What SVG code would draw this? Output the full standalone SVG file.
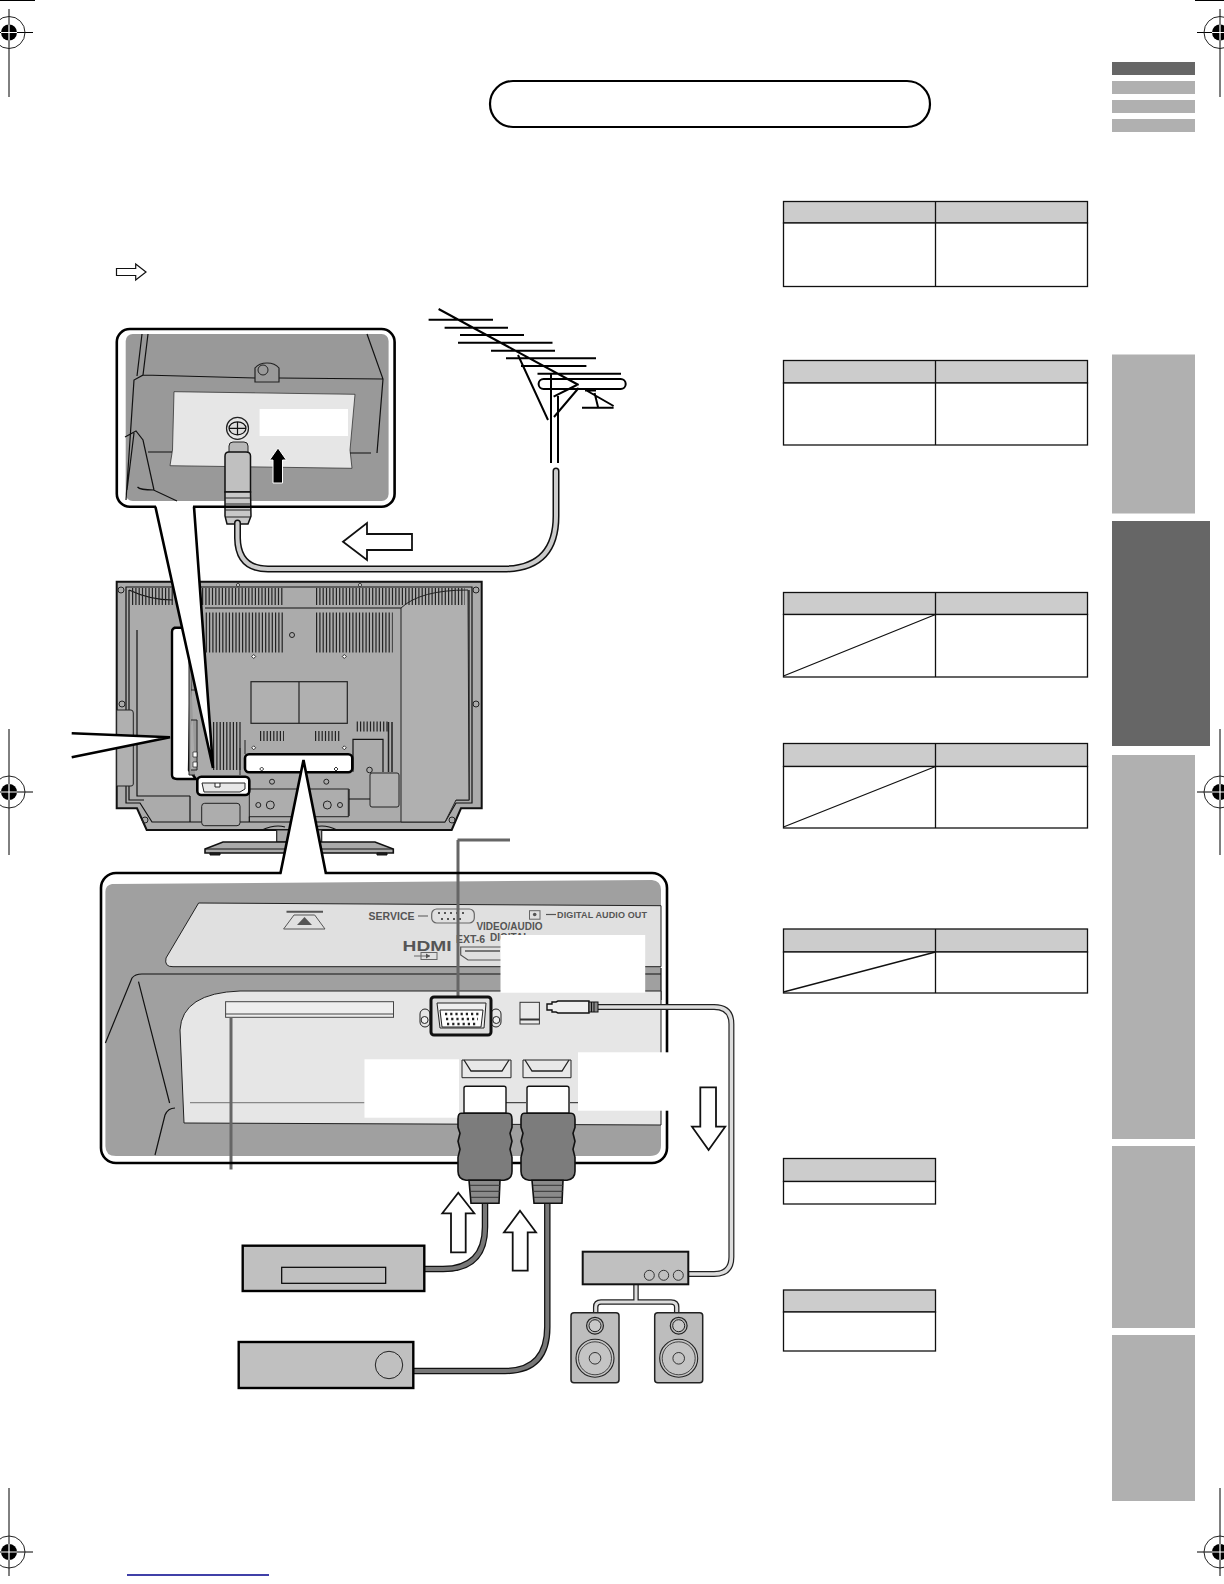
<svg xmlns="http://www.w3.org/2000/svg" width="1224" height="1584" viewBox="0 0 1224 1584">
<style>
.l{fill:none;stroke:#111;stroke-width:1.2}
.m{fill:none;stroke:#111;stroke-width:1.300}
.b{fill:none;stroke:#000;stroke-width:2.6}
.hd{fill:#ccc;stroke:#111;stroke-width:1.300}
.ce{fill:#fff;stroke:#111;stroke-width:1.300}
.v{fill:none;stroke:#222;stroke-dasharray:1.2 2.1}
.ar{fill:#fff;stroke:#111;stroke-width:1.8;stroke-linejoin:miter}
.dev{fill:#c0c0c0;stroke:#000;stroke-width:2.4}
.sp{fill:#bdbdbd;stroke:#222;stroke-width:1.5}
.t{font-family:"Liberation Sans",Arial,sans-serif;font-weight:bold;fill:#555}
.tab{fill:#b0b0b0}
</style>
<defs>
<g id="reg">
<circle r="16" fill="none" stroke="#222" stroke-width="1"/>
<circle r="8" fill="#000"/>
<path d="M-8 0H8M0-8V8" stroke="#fff" stroke-width="1.2"/>
</g>
<g id="plugH">
<path d="M6 -25 Q6 -27 8 -27 H46 Q48 -27 48 -25 V0 H6Z" fill="#fff" stroke="#111" stroke-width="1.4"/>
<path d="M3 0 H50 Q54 0 54 6 L54 14 L52 20 L54 28 L52 36 L54 44 L54 58 Q54 66 46 67 H8 Q0 66 0 58 L0 44 L2 36 L0 28 L2 20 L0 14 L0 6 Q0 0 3 0Z" fill="#7c7c7c" stroke="#111" stroke-width="1.6"/>
<path d="M11 67 H42 L41 90 H13Z" fill="#8a8a8a" stroke="#111" stroke-width="1.6"/>
<path d="M12 72H42M12 78H42M13 84H41" stroke="#333" stroke-width="1"/>
</g>
<g id="speaker">
<rect x="-24" y="0" width="48" height="70" rx="3" class="sp"/>
<circle cy="13" r="8.4" fill="#bbb" stroke="#222" stroke-width="1.2"/>
<circle cy="13" r="6" fill="#c8c8c8" stroke="#222" stroke-width="1"/>
<circle cy="45.600" r="19" fill="#c4c4c4" stroke="#222" stroke-width="1.1"/>
<circle cy="45.600" r="16.500" fill="none" stroke="#222" stroke-width=".8"/>
<circle cy="45.600" r="5.800" fill="none" stroke="#222" stroke-width=".9"/>
</g>
</defs>
<rect width="1224" height="1584" fill="#fff"/>

<g id="print-marks">
<path d="M0 .5H35M1195 .5H1224" stroke="#000" stroke-width="1.2"/>
<path d="M9 9V97M0 32.500H33M1220 9V97M1197 32.500H1224M9 729V855M0 792H33M1220 729V855M1197 792H1224M9 1488V1576M0 1552H33M1220 1488V1576M1197 1552H1224" stroke="#000" stroke-width="1"/>
<use href="#reg" x="9" y="32.500"/><use href="#reg" x="1220" y="32.500"/>
<use href="#reg" x="9" y="792"/><use href="#reg" x="1220" y="792"/>
<use href="#reg" x="9" y="1552"/><use href="#reg" x="1220" y="1552"/>
<path d="M127 1575H269" stroke="#00008b" stroke-width="1.600"/>
</g>

<g id="side-tabs">
<rect x="1112" y="62" width="83" height="13" fill="#666"/>
<rect x="1112" y="81" width="83" height="13" class="tab"/>
<rect x="1112" y="100" width="83" height="13" class="tab"/>
<rect x="1112" y="119" width="83" height="13" class="tab"/>
<rect x="1112" y="354.500" width="83" height="159" class="tab"/>
<rect x="1112" y="521" width="98" height="225" fill="#666"/>
<rect x="1112" y="755" width="83" height="384" class="tab"/>
<rect x="1112" y="1146" width="83" height="182" class="tab"/>
<rect x="1112" y="1335" width="83" height="166" class="tab"/>
</g>

<g id="title-pill"><rect x="490" y="81" width="440" height="46" rx="23" fill="#fff" stroke="#000" stroke-width="2.2"/></g>

<g id="legend-arrow"><path d="M116.500 268.500H135.700V264L146 272 135.700 280V275.500H116.500Z" fill="#fff" stroke="#111" stroke-width="1.200"/></g>

<g id="tables">
<g id="table-1"><rect x="783.500" y="201.500" width="304" height="21.500" class="hd"/><rect x="783.500" y="223" width="304" height="63.500" class="ce"/><path d="M935.500 201.500V286.500" class="m"/></g>
<g id="table-2"><rect x="783.500" y="360.500" width="304" height="22.500" class="hd"/><rect x="783.500" y="383" width="304" height="62" class="ce"/><path d="M935.500 360.500V445" class="m"/></g>
<g id="table-3"><rect x="783.500" y="592.500" width="304" height="22" class="hd"/><rect x="783.500" y="614.500" width="304" height="62.500" class="ce"/><path d="M935.500 592.500V677M783.500 676L935.500 614.500" class="m"/></g>
<g id="table-4"><rect x="783.500" y="743.500" width="304" height="23" class="hd"/><rect x="783.500" y="766.500" width="304" height="61.500" class="ce"/><path d="M935.500 743.500V828M783.500 827L935.500 766.500" class="m"/></g>
<g id="table-5"><rect x="783.500" y="929" width="304" height="23" class="hd"/><rect x="783.500" y="952" width="304" height="41" class="ce"/><path d="M935.500 929V993M783.500 992L935.500 952" class="m"/></g>
<g id="table-6"><rect x="783.500" y="1158.500" width="152" height="23" class="hd"/><rect x="783.500" y="1181.500" width="152" height="22.500" class="ce"/></g>
<g id="table-7"><rect x="783.500" y="1290" width="152" height="22" class="hd"/><rect x="783.500" y="1312" width="152" height="39" class="ce"/></g>
</g>

<g id="tv">
<path d="M116.700 581.700H481.700V808.300H461L451.700 830H146.700L137 808.300H116.700Z" fill="#ababab" stroke="#111" stroke-width="2"/>
<path d="M126 587H472V803H456L445 822H152L140 803H126Z" class="l"/>
<path d="M129 590V800H144M469 590V800H455" class="l"/>
<path d="M468 590Q420 590 401 608V822H445L456 800H469Z" fill="#b0b0b0" stroke="#222" stroke-width="1"/>
<path d="M401 608H205M129 590Q150 600 173 600" class="l"/>
<path d="M132 596.500H173M202 596.500H284M316 596.500H465" class="v" stroke-width="17"/>
<path d="M205.700 632.500H284M316 632.500H392.700" class="v" stroke-width="40"/>
<path d="M260 736H284M315 736H339.300M356.700 726.500H388.300" class="v" stroke-width="10"/>
<path d="M213 746H242.700" class="v" stroke-width="48"/>
<path d="M388.500 722V772M392 722V772" stroke="#222" stroke-width="1.500"/>
<path d="M240 748V775M245 740V754" stroke="#222" stroke-width="1"/>
<rect x="251" y="681.700" width="96.300" height="41.600" fill="#b0b0b0" stroke="#222" stroke-width="1.200"/>
<path d="M299 681.700V723.300" stroke="#222" stroke-width="1.200"/>
<path d="M353 771.700V739.300H383V772" class="l"/>
<rect x="370" y="773" width="29" height="34" rx="2" fill="#b0b0b0" stroke="#222" stroke-width="1"/>
<path d="M137 630V796H190M349 789V816M349 799H370" class="l"/>
<path d="M116.700 710H131Q133.300 710 133.300 713V784Q133.300 786 131 786H116.700Z" fill="#b0b0b0" stroke="#222" stroke-width="1"/>
<rect x="201.700" y="803.300" width="38.300" height="22.400" rx="3" fill="#adadad" stroke="#222" stroke-width="1"/>
<rect x="249.300" y="789" width="99" height="27.700" fill="#adadad" stroke="#222" stroke-width="1"/>
<path d="M249.300 816.700V822M190 822V796" class="l"/>
<g fill="none" stroke="#222" stroke-width="1"><circle cx="292" cy="635" r="2.500"/><circle cx="272" cy="781.700" r="2.500"/><circle cx="326.300" cy="781.700" r="2.500"/><circle cx="258.300" cy="805" r="2.500"/><circle cx="270.300" cy="805" r="4"/><circle cx="327.300" cy="805" r="4"/><circle cx="340" cy="805" r="2.500"/><circle cx="369.500" cy="770" r="2.800"/></g>
<g fill="#fff" stroke="#222" stroke-width=".9"><path d="M253.700 654.500l2 2-2 2-2-2zM344.300 654.500l2 2-2 2-2-2zM253.700 745.800l2 2-2 2-2-2zM344.300 745.800l2 2-2 2-2-2z"/><circle cx="238" cy="585" r="1.500"/><circle cx="360" cy="585" r="1.500"/></g>
<g fill="none" stroke="#222" stroke-width="1"><circle cx="121" cy="590" r="3"/><circle cx="476" cy="590" r="3"/><circle cx="122" cy="704" r="3"/><circle cx="476" cy="704" r="3"/><circle cx="145" cy="820" r="3"/><circle cx="452" cy="820" r="3"/></g>
<path d="M276.700 830H321.700V842H276.700Z" fill="#a8a8a8" stroke="#222" stroke-width="1.200"/>
<path d="M262 830Q275 824 285 827M315 827Q325 824 337 830" class="l"/>
<path d="M205 849L223 842H375L393.300 849V853H205Z" fill="#aaa" stroke="#111" stroke-width="1.600"/>
<path d="M205 849H393.300M210 853h10v2h-10zM377 853h10v2h-10z" fill="#222" stroke="#111" stroke-width="1"/>
<path d="M174 627.700H186L191 660 189 770 196 779H177Q172 779 172 775V632Q172 627.700 176 627.700Z" fill="#fff" stroke="#000" stroke-width="2.400"/>
<path d="M189 620V775H195M191 670H197V690H191M191 720H197V770H191" fill="#9a9a9a" stroke="#222" stroke-width="1"/>
<path d="M193 752h4v5h-4zM193 762h4v5h-4z" fill="#fff" stroke="#222" stroke-width=".7"/>
<rect x="197.300" y="776.700" width="52" height="18.300" rx="4" fill="#fff" stroke="#000" stroke-width="2.600"/>
<path d="M202 783H245V789L240 792H204ZM215 783v4h5v-4" fill="#e8e8e8" stroke="#222" stroke-width="1"/>
<rect x="245" y="754.300" width="107.300" height="18" rx="4" fill="#fff" stroke="#000" stroke-width="2.600"/>
<path d="M261.700 767l2 2-2 2-2-2zM336 767l2 2-2 2-2-2z" fill="#fff" stroke="#222" stroke-width=".9"/>
</g>

<g id="wedge-fills">
<path d="M155.400 506.700L213 768 194 506.700Z" fill="#fff"/>
<path d="M71.700 733.300L170 737.300 71.700 757.300Z" fill="#fff"/>
<path d="M280.300 878L303.500 760 326 878Z" fill="#fff"/>
</g>

<g id="aerial-inset">
<rect x="116.800" y="329" width="277.800" height="177.700" rx="13" fill="#fff"/>
<rect x="125.700" y="334" width="262.900" height="167" rx="7" fill="#999"/>
<path d="M174 391.700L355 394.300 350 450 352 468.300 170 465.700 172.500 450Z" fill="#e6e6e6" stroke="#222" stroke-width=".7"/>
<path d="M148 334L143 375 134 380 126 500M142 334L137 376M143 375L255 378M279 378L383 379M367 334L383 379 377 453M148 452H172M350 453H371M125 437L136 431 143 440 154 490M134 433L127 490M137.500 487Q140 490 153.600 490L177 501" class="l"/>
<path d="M255 378V368Q259 363 267 363 275 363 279 368V378 382H255Z" fill="#9a9a9a" stroke="#222" stroke-width="1.200"/>
<circle cx="263" cy="370" r="5" fill="none" stroke="#222"/>
<rect x="259.600" y="409" width="88.400" height="27" fill="#fff"/>
<circle cx="237.500" cy="428.300" r="11" fill="#e5e5e5" stroke="#222" stroke-width="1.200"/>
<ellipse cx="237.500" cy="428.300" rx="8.500" ry="6.500" fill="#ddd" stroke="#111" stroke-width="1.200"/>
<path d="M229 428.300H246M237.500 422V435" stroke="#111" stroke-width="1.200"/>
<rect x="229" y="442" width="19" height="14" rx="4" fill="#b8b8b8" stroke="#222" stroke-width="1"/>
<path d="M225 456Q225 452 229 452H246Q250.500 452 250.500 456V492H225Z" fill="#c0c0c0" stroke="#111" stroke-width="1.500"/>
<path d="M225 492H250.500L251 516 248 524H227L225 516Z" fill="#c8c8c8" stroke="#111" stroke-width="1.500"/>
<path d="M225 498H250.500M225 504H250.500M225 510H250.500M226 517H250" stroke="#222" stroke-width="1"/>
<path d="M278 448L286.400 460H282.500V483H273V460H269.600Z" fill="#000" stroke="#fff" stroke-width="1"/>
<rect x="116.800" y="329" width="277.800" height="177.700" rx="13" fill="none" stroke="#000" stroke-width="2.600"/>
<path d="M156 506.700H193" stroke="#fff" stroke-width="4"/>
</g>

<g id="aerial-cable">
<path d="M237.500 523V538Q238 569 268 569H503Q556 569 556 516V471" fill="none" stroke="#111" stroke-width="7" stroke-linecap="round"/>
<path d="M237.500 523V538Q238 569 268 569H503Q556 569 556 516V471" fill="none" stroke="#ccc" stroke-width="4" stroke-linecap="round"/>
<path d="M343 541.700L367 523V534H412V550H367V560Z" class="ar"/>
</g>

<g id="antenna" fill="none" stroke="#000">
<path d="M438.600 309L578.600 385M428.600 319.700H493M444.600 327.700H508M460 335H524M458 342.700H552.500M491 350.700H555M506 358.300H596M521 366H586.400M537.500 373.700H621" stroke-width="2"/>
<rect x="538.600" y="379" width="87.100" height="10" rx="5" stroke-width="2"/>
<path d="M518 355L548 420M553.600 396.700L576.800 385M578.600 388L554 417M551 374V463M558 396V463M585.700 390L613.600 406M594.600 393L598 407M582 407.700H613.600M585 390.500H596" stroke-width="2"/>
</g>

<g id="connection-inset">
<rect x="101" y="873" width="566" height="290" rx="15" fill="#fff"/>
<path d="M112 884L652 880Q661 881 661 890V1145Q661 1156 650 1156H116Q105.400 1156 105.400 1146V892Q105.400 885 112 884Z" fill="#a0a0a0"/>
<path d="M198.600 903L661 905.700V966.700H173Q164 967 166 958Z" fill="#e0e0e0" stroke="#222" stroke-width="1"/>
<path d="M105.400 1043L132 978Q135 974 142 974H661M661 968V1000M138.500 981.700L169.600 1103M155 1155L165 1115Q168 1108 175 1108" class="l"/>
<path d="M661 991H240Q182 993 180 1030L184 1123 661 1125Z" fill="#e6e6e6" stroke="#222" stroke-width="1"/>
<path d="M190 1102.700H364.500" stroke="#888" stroke-width="1.200"/><path d="M505 1102.700H526M570 1102.700H660" stroke="#222" stroke-width="1"/>
<rect x="225.600" y="1001.700" width="167.900" height="15.600" fill="#eee" stroke="#444" stroke-width="1"/>
<path d="M225.600 1014H393.500" stroke="#444" stroke-width="1"/>
<path d="M286.500 911.700H323" stroke="#555" stroke-width="2"/>
<path d="M283.600 929L294 915H314.700L325 929Z" fill="none" stroke="#555" stroke-width="1"/>
<path d="M304.500 917L312 925H297Z" fill="#555"/>
<text x="368.600" y="920" class="t" font-size="10.500">SERVICE</text>
<path d="M418 916H428" stroke="#555"/>
<rect x="431.700" y="909" width="42.600" height="14" rx="5" fill="none" stroke="#666" stroke-width="1.200"/>
<path d="M438 913h28M441 919h22" stroke="#555" stroke-width="2" stroke-dasharray="2 4"/>
<rect x="529.500" y="910.700" width="10.500" height="8.500" fill="none" stroke="#666"/><circle cx="534.700" cy="914.500" r="1.800" fill="#555"/>
<path d="M546 914.500H556" stroke="#555" stroke-width="1.200"/>
<text x="557" y="918" class="t" font-size="9" textLength="90">DIGITAL AUDIO OUT</text>
<text x="476.400" y="930" class="t" font-size="10">VIDEO/AUDIO</text>
<text x="490" y="941" class="t" font-size="10">DIGITAL</text>
<text x="456" y="943" class="t" font-size="10.500">EXT-6</text>
<text x="402.600" y="951" class="t" font-size="14" textLength="49" lengthAdjust="spacingAndGlyphs">HDMI</text>
<rect x="421" y="952.500" width="16" height="7" fill="none" stroke="#666"/><path d="M414 956H430" stroke="#666"/><path d="M426 953.500l4 2.500-4 2.500z" fill="#555"/>
<path d="M460.700 947H510V960H468L460.700 955Z" fill="none" stroke="#555" stroke-width="1.200"/><path d="M465 951H500" stroke="#555" stroke-width="1.500"/>
<rect x="500.500" y="935" width="144.700" height="57.700" fill="#fff"/>
<path d="M457.500 840H510M458 840V997M231 1017V1169.500" fill="none" stroke="#666" stroke-width="3"/>
<rect x="520" y="1002.300" width="19.400" height="21.700" fill="#eaeaea" stroke="#333" stroke-width="1"/>
<path d="M520 1019.500H539.400" stroke="#333" stroke-width="2"/>
<g id="vga">
<rect x="420" y="1009" width="10" height="18" rx="5" fill="#e5e5e5" stroke="#222"/><circle cx="424.600" cy="1020" r="3.500" fill="#eee" stroke="#222"/>
<rect x="491" y="1009" width="10" height="18" rx="5" fill="#e5e5e5" stroke="#222"/><circle cx="496.300" cy="1020" r="3.500" fill="#eee" stroke="#222"/>
<rect x="431" y="997" width="60" height="38" rx="3" fill="#dedede" stroke="#111" stroke-width="3"/>
<path d="M437 1003H486L484 1028H440Z" fill="#eee" stroke="#222"/>
<path d="M440 1010H483L481 1027H442Z" fill="#fff" stroke="#222"/>
<path d="M445 1014h34M446 1019h32M447 1024h30" stroke="#222" stroke-width="2.400" stroke-dasharray="2.200 3"/>
</g>
<g id="hdmi-ports" fill="#e8e8e8" stroke="#222">
<path d="M462 1060H511V1077.700H462Z"/><path d="M464 1060L471 1071H502L509 1060" fill="none" stroke-width="1.300"/>
<path d="M523 1060H571V1077.700H523Z"/><path d="M525 1060L532 1071H562L569 1060" fill="none" stroke-width="1.300"/>
</g>
<rect x="364.500" y="1059.300" width="94.500" height="58.400" fill="#fff"/>
<rect x="101" y="873" width="566" height="290" rx="15" fill="none" stroke="#000" stroke-width="2.600"/>
<path d="M281 873H325.500" stroke="#fff" stroke-width="4"/>
<rect x="578" y="1052.300" width="91" height="58.400" fill="#fff"/>
<path d="M708.600 1150L692 1126.700H700.300V1087.300H716V1126.700H725.200Z" class="ar"/>
</g>

<g id="connectors">
<path d="M155.400 506.700L213 768M194 506.700L213 768" class="b"/>
<path d="M71.700 733.300L170 737.300 71.700 757.300" class="b"/>
<path d="M280.300 874L303.500 760 326 874" class="b"/>
</g>

<g id="digital-cable">
<path d="M596 1007H714Q731.400 1007 731.400 1024V1257Q731.400 1274 714 1274H688.300" fill="none" stroke="#222" stroke-width="6"/>
<path d="M596 1007H714Q731.400 1007 731.400 1024V1257Q731.400 1274 714 1274H688.300" fill="none" stroke="#ddd" stroke-width="3.600"/>
<path d="M547 1004h5v-2h4l2-1h31v12h-31l-2-1h-4v-2h-5Z" fill="#eee" stroke="#111" stroke-width="1.400"/>
<rect x="589" y="1002" width="9" height="10" fill="#888" stroke="#111"/>
<path d="M591.500 1002v10M594 1002v10" stroke="#111"/>
</g>

<g id="hdmi-cables">
<path d="M485 1203V1227Q485 1269 443 1269H424" fill="none" stroke="#111" stroke-width="6.500"/>
<path d="M485 1203V1227Q485 1269 443 1269H424" fill="none" stroke="#777" stroke-width="4"/>
<path d="M547.300 1203V1327Q547.300 1371 505 1371H413" fill="none" stroke="#111" stroke-width="6.500"/>
<path d="M547.300 1203V1327Q547.300 1371 505 1371H413" fill="none" stroke="#777" stroke-width="4"/>
<use href="#plugH" x="458" y="1113.300"/>
<use href="#plugH" x="521" y="1113.300"/>
<path d="M458.300 1192.700L474.300 1213.300H465.700V1252.300H451V1213.300H442.300Z" class="ar"/>
<path d="M520 1210.700L536 1232.300H527.700V1270.700H512.700V1232.300H504Z" class="ar"/>
</g>

<g id="device-1"><rect x="242.700" y="1245.700" width="181.600" height="45.300" class="dev"/><rect x="281.700" y="1267.300" width="104" height="16" fill="#c0c0c0" stroke="#000" stroke-width="1.200"/></g>
<g id="device-2"><rect x="238.700" y="1342" width="174.600" height="46" class="dev"/><circle cx="389" cy="1365" r="13.700" fill="none" stroke="#222" stroke-width="1"/></g>
<g id="speaker-wires">
<path d="M636 1284V1302M595.700 1312V1307Q595.700 1302 601 1302H671Q676.700 1302 676.700 1307V1312" fill="none" stroke="#222" stroke-width="5.500"/>
<path d="M636 1284V1302M595.700 1312V1307Q595.700 1302 601 1302H671Q676.700 1302 676.700 1307V1312" fill="none" stroke="#ddd" stroke-width="3"/>
</g>
<g id="amplifier"><rect x="582.700" y="1251.700" width="105.600" height="32.600" fill="#c0c0c0" stroke="#111" stroke-width="2"/><g fill="none" stroke="#333"><circle cx="649.300" cy="1275.300" r="5"/><circle cx="663.700" cy="1275.300" r="5"/><circle cx="678.300" cy="1275.300" r="5"/></g></g>
<g id="speaker-left"><use href="#speaker" x="595" y="1312.700"/></g>
<g id="speaker-right"><use href="#speaker" x="678.700" y="1312.700"/></g>
</svg>
